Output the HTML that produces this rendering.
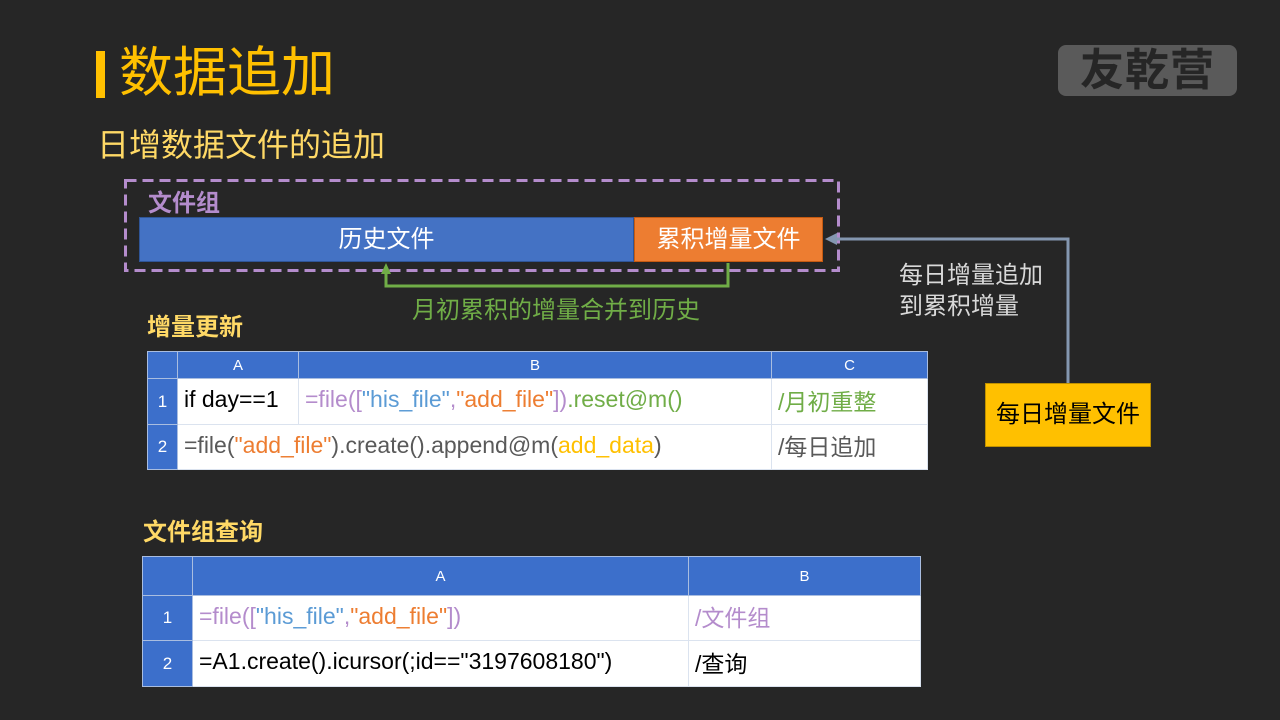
<!DOCTYPE html>
<html><head><meta charset="utf-8"><style>
*{margin:0;padding:0;box-sizing:border-box}
body{width:1280px;height:720px;background:#262626;position:relative;overflow:hidden;font-family:"Liberation Sans","Noto Sans CJK SC",sans-serif}
.a{position:absolute;white-space:nowrap}
table{position:absolute;border-collapse:collapse;background:#fff}
td{border:1px solid #dbe3ef;font-size:23px;padding:0 6px 4px;white-space:nowrap;color:#000}
tr.h td{background:#3c6fcb;color:#fff;text-align:center;font-size:15px;border-color:#a9bde0;padding:0}
td.n{background:#3c6fcb;color:#fff;text-align:center;font-size:17px;padding:0;border-color:#a9bde0}
.p{color:#b48ccc}.b{color:#5b9bd5}.o{color:#ed7d31}.g{color:#70ad47}.y{color:#ffc000}.gr{color:#595959}
</style></head><body>
<div class="a" style="left:96px;top:51px;width:9px;height:47px;background:#ffc000"></div>
<div class="a" style="left:119px;top:41px;font-size:54px;color:#ffc000;line-height:64px">数据追加</div>
<div class="a" style="left:97px;top:124px;font-size:32px;color:#ffd966;line-height:42px">日增数据文件的追加</div>
<div class="a" style="left:1058px;top:45px;width:179px;height:51px;background:#5a5a5a;border-radius:8px;font-size:44px;font-weight:bold;color:#262626;text-align:center;line-height:51px;letter-spacing:1px">友乾营</div>

<svg class="a" style="left:0;top:0" width="1280" height="720">
<rect x="125.5" y="180.5" width="713" height="90" fill="none" stroke="#b48ccc" stroke-width="3" stroke-dasharray="11,6"/>
</svg>
<div class="a" style="left:148px;top:183px;font-size:24px;font-weight:bold;color:#b48ccc">文件组</div>
<div class="a" style="left:139px;top:217px;width:495px;height:45px;background:#4472c4;border:1px solid #2f5597;color:#fff;font-size:24px;text-align:center;line-height:44px">历史文件</div>
<div class="a" style="left:634px;top:217px;width:189px;height:45px;background:#ed7d31;border:1px solid #c55a11;color:#fff;font-size:24px;text-align:center;line-height:44px">累积增量文件</div>

<svg class="a" style="left:0;top:0" width="1280" height="720">
<polyline points="728,263 728,286 386,286 386,272" fill="none" stroke="#70ad47" stroke-width="3"/>
<polygon points="386,263 381,274 391,274" fill="#70ad47"/>
<polyline points="1068,383 1068,239 836,239" fill="none" stroke="#8497b0" stroke-width="3"/>
<polygon points="825,239 837,233 837,245" fill="#8497b0"/>
</svg>
<div class="a" style="left:412px;top:290px;font-size:24px;color:#70ad47">月初累积的增量合并到历史</div>
<div class="a" style="left:899px;top:260px;font-size:24px;color:#d9d9d9;line-height:31px">每日增量追加<br>到累积增量</div>
<div class="a" style="left:985px;top:383px;width:166px;height:64px;background:#ffc000;border:1px solid #bf9000;font-size:24px;text-align:center;line-height:62px;color:#000">每日增量文件</div>

<div class="a" style="left:147px;top:307px;font-size:24px;font-weight:bold;color:#ffd966">增量更新</div>
<table style="left:147px;top:351px;width:781px">
<tr class="h" style="height:27px"><td style="width:30px"></td><td style="width:121px">A</td><td style="width:473px">B</td><td>C</td></tr>
<tr style="height:46px"><td class="n">1</td><td>if day==1</td><td><span class="p">=file([</span><span class="b">"his_file"</span><span class="p">,</span><span class="o">"add_file"</span><span class="p">])</span><span class="g">.reset@m()</span></td><td class="g">/月初重整</td></tr>
<tr style="height:45px"><td class="n">2</td><td colspan="2" class="gr">=file(<span class="o">"add_file"</span>).create().append@m(<span class="y">add_data</span>)</td><td class="gr">/每日追加</td></tr>
</table>

<div class="a" style="left:143px;top:512px;font-size:24px;font-weight:bold;color:#ffd966">文件组查询</div>
<table style="left:142px;top:556px;width:779px">
<tr class="h" style="height:39px"><td style="width:50px"></td><td style="width:496px">A</td><td>B</td></tr>
<tr style="height:45px"><td class="n">1</td><td><span class="p">=file([</span><span class="b">"his_file"</span><span class="p">,</span><span class="o">"add_file"</span><span class="p">])</span></td><td class="p">/文件组</td></tr>
<tr style="height:46px"><td class="n">2</td><td>=A1.create().icursor(;id=="3197608180")</td><td>/查询</td></tr>
</table>
</body></html>
